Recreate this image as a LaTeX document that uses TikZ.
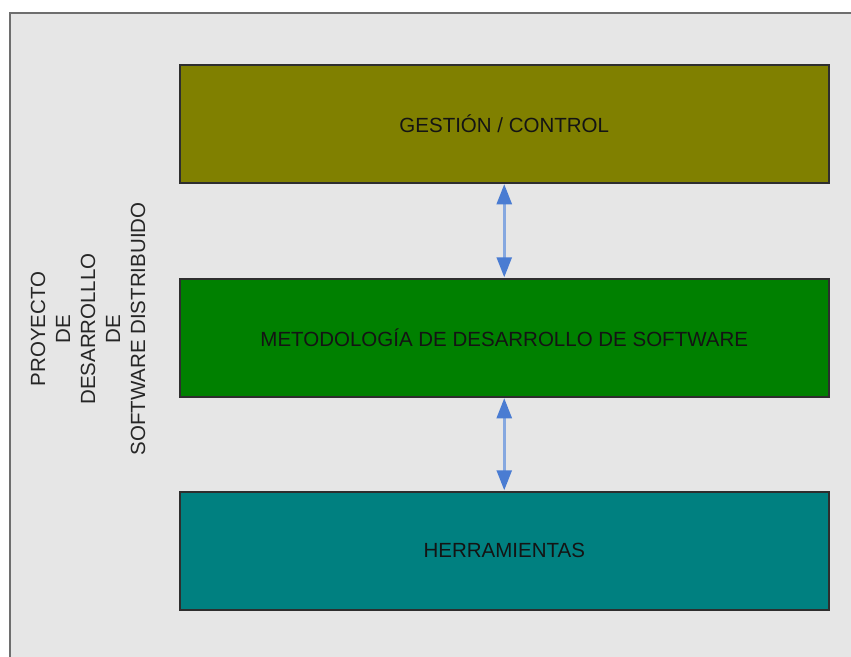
\documentclass[tikz,border=0pt]{standalone}
\usepackage{fontspec}
\setmainfont{Liberation Sans}
\usetikzlibrary{arrows.meta}
\definecolor{outerbg}{HTML}{E6E6E6}
\definecolor{outerline}{HTML}{6E6E6E}
\definecolor{oliveb}{HTML}{808000}
\definecolor{greenb}{HTML}{008000}
\definecolor{tealb}{HTML}{008080}
\definecolor{boxline}{HTML}{2E2E2E}
\definecolor{arrline}{HTML}{86A8E0}
\definecolor{arrhead}{HTML}{4A7CD2}
\tikzset{
  x=1pt, y=-1pt,
  layerbox/.style={draw=boxline, line width=1.5pt, minimum width=649pt, minimum height=118pt,
    inner sep=0pt, anchor=north west, font=\fontsize{20.5}{24}\selectfont, text=black!92},
  link/.style={draw=arrline, line width=2.5pt,
    {Triangle[color=arrhead, width=15pt, length=20pt]}-{Triangle[color=arrhead, width=15pt, length=20pt]}},
  sidetext/.style={rotate=90, align=center, font=\fontsize{20.5}{25}\selectfont, text=black!85}
}
\begin{document}
\begin{tikzpicture}
\useasboundingbox (0,0) rectangle (851,656);
\fill[white] (0,0) rectangle (851,656);
\fill[outerbg] (10,13) rectangle (860,670);
\draw[outerline, line width=2pt] (10,670) -- (10,13) -- (860,13);
\node[layerbox, fill=oliveb] (gest) at (179,64) {GESTIÓN / CONTROL};
\node[layerbox, fill=greenb] (meto) at (179,278) {METODOLOGÍA DE DESARROLLO DE SOFTWARE};
\node[layerbox, fill=tealb] (herr) at (179,491) {HERRAMIENTAS};
\draw[link] ([yshift=-0.75pt]gest.south) -- ([yshift=0.75pt]meto.north);
\draw[link] ([yshift=-0.75pt]meto.south) -- ([yshift=0.75pt]herr.north);
\node[sidetext] (side) at (88,329) {PROYECTO\\DE\\DESARROLLLO\\DE\\SOFTWARE DISTRIBUIDO};
\end{tikzpicture}
\end{document}
